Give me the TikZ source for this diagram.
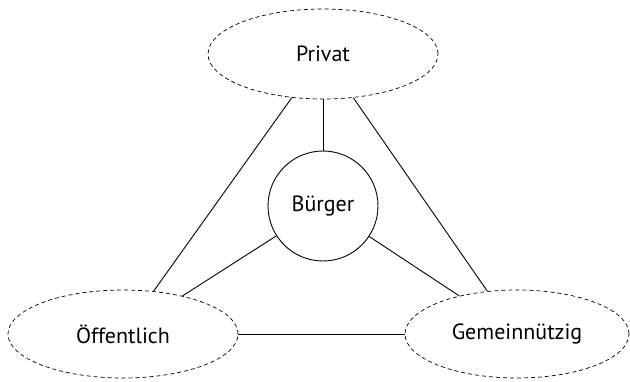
\documentclass[tikz,border=0pt]{standalone}
\usepackage{fontspec}
\setmainfont{PT Sans}
\usetikzlibrary{shapes.geometric}
\tikzset{
  sector/.style={ellipse, draw, dash pattern=on 4pt off 3pt, line width=0.7pt, inner sep=0pt, font=\fontsize{22}{26}\selectfont},
  hub/.style={circle, draw, line width=0.9pt, minimum size=110pt, inner sep=0pt, font=\fontsize{22}{26}\selectfont},
  link/.style={line width=0.9pt}
}
\begin{document}
\begin{tikzpicture}[x=1pt,y=1pt]
\useasboundingbox (0,0) rectangle (630,381);
\node[sector, minimum width=230pt, minimum height=90pt] (p) at (323,327) {Privat};
\node[hub] (b) at (323,175) {Bürger};
\node[sector, minimum width=230pt, minimum height=88pt] (o) at (123,47) {Öffentlich};
\node[sector, minimum width=224pt, minimum height=88pt] (g) at (517,47) {Gemeinnützig};
\draw[link] (p) -- (b);
\draw[link] (p) -- (o);
\draw[link] (p) -- (g);
\draw[link] (b) -- (o);
\draw[link] (b) -- (g);
\draw[link] (o) -- (g);
\end{tikzpicture}
\end{document}
